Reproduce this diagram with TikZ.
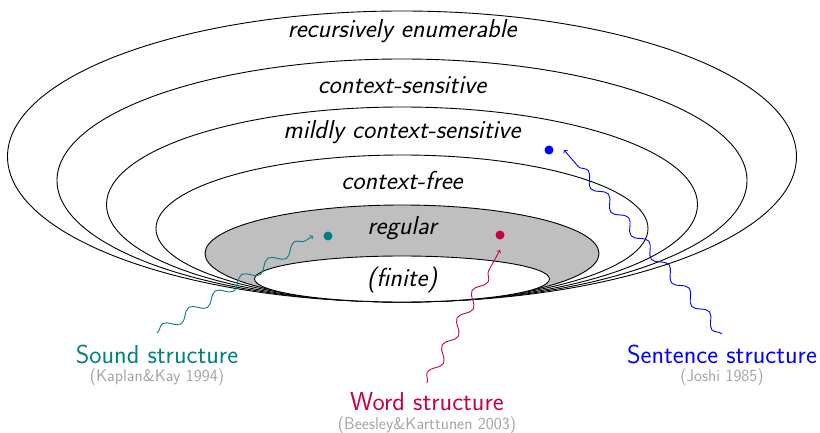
\documentclass[tikz,border=0pt]{standalone}
\usepackage{fontspec}
\usetikzlibrary{decorations.pathmorphing,calc}
\definecolor{wordc}{RGB}{200,0,70}
\begin{document}
\begin{tikzpicture}[x=1pt,y=-1pt, line width=0.9pt,
  lab/.style={font=\sffamily\itshape\fontsize{26}{30}\selectfont, inner sep=0},
  ttl/.style={font=\sffamily\fontsize{26}{30}\selectfont, inner sep=0},
  cite/.style={font=\sffamily\fontsize{17}{20}\selectfont, text=black!35, inner sep=0},
  dot/.style={circle, fill, inner sep=0, minimum size=9pt},
  wig/.style={->, line width=0.9pt, decorate, decoration={snake, amplitude=5pt, segment length=31pt, post length=9pt}}]
\useasboundingbox (0,0) rectangle (820,433);
% ellipses, all touching near the bottom
\draw[fill=white] (402,156.5) ellipse [x radius=394.5pt, y radius=145.5pt];
\draw[fill=white] (402,180.5) ellipse [x radius=345pt, y radius=121.5pt];
\draw[fill=white] (402,204.5) ellipse [x radius=295.5pt, y radius=97.5pt];
\draw[fill=white] (402,228.5) ellipse [x radius=246pt, y radius=73.5pt];
\draw[fill=black!25] (402,253.5) ellipse [x radius=197pt, y radius=48.5pt];
\draw[fill=white] (402,279) ellipse [x radius=147.5pt, y radius=23pt];
% class labels
\node[lab] (re) at (402,31) {recursively enumerable};
\node[lab] (cs) at (402,85) {context-sensitive};
\node[lab] (mcs) at (402,132) {mildly context-sensitive};
\node[lab] (cf) at (402,180) {context-free};
\node[lab] (rg) at (402,228) {regular};
\node[lab] (fin) at (402,280) {(finite)};
% dots
\node[dot, teal] (sd) at (328,236) {};
\node[dot, wordc] (wd) at (500,235) {};
\node[dot, blue] (sen) at (549,150) {};
% titles
\node[ttl, text=teal] (sndt) at (157,354) {Sound structure};
\node[cite] (sndc) at (157,377) {(Kaplan\&Kay 1994)};
\node[ttl, text=wordc] (wrdt) at (427,402) {Word structure};
\node[cite] (wrdc) at (427,425) {(Beesley\&Karttunen 2003)};
\node[ttl, text=blue] (sent) at (722,354) {Sentence structure};
\node[cite] (senc) at (722,377) {(Joshi 1985)};
% arrow starts
\coordinate (s0) at (157,333);
\coordinate (w0) at (427,383);
\coordinate (b0) at (722,334);
\draw[wig, teal] (s0) -- ($(sd.center)+(-15,0)$);
\draw[wig, wordc] (w0) -- ($(wd.center)+(0,15)$);
\draw[wig, blue] (b0) -- ($(sen.center)+(15,0)$);
\end{tikzpicture}
\end{document}
